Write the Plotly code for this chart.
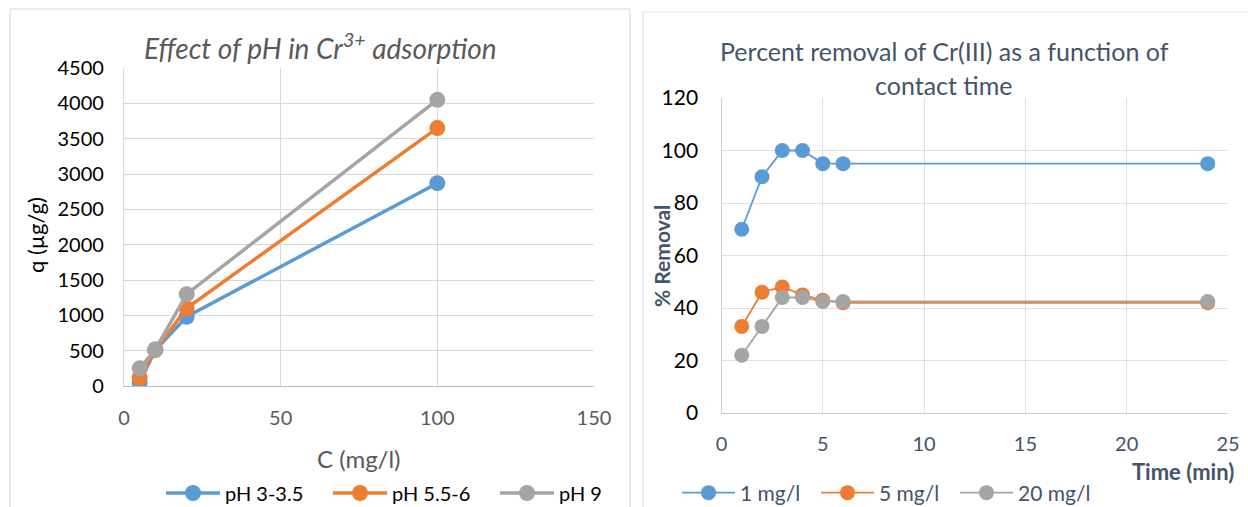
import plotly.graph_objects as go

W, H = 1248, 507

# ---- Left chart data ----
conc = [5, 10, 20, 100]
q_ph3 = [50, 510, 980, 2870]
q_ph55 = [120, 510, 1100, 3650]
q_ph9 = [250, 520, 1300, 4050]
left_names = ["pH 3-3.5", "pH 5.5-6", "pH 9"]

# ---- Right chart data ----
time_min = [1, 2, 3, 4, 5, 6, 24]
rem_1 = [70, 90, 100, 100, 95, 95, 95]
rem_5 = [33, 46, 48, 45, 43, 42, 42]
rem_20 = [22, 33, 44, 44, 42.5, 42.5, 42.5]
right_names = ["1 mg/l", "5 mg/l", "20 mg/l"]

colors = ["#5B9BD5", "#ED7D31", "#A5A5A5"]
FONT = "Lato"

def px_x(p):
    return p / W

def px_y(p):
    return 1 - p / H

fig = go.Figure()

for name, ys, c in zip(left_names, [q_ph3, q_ph55, q_ph9], colors):
    fig.add_trace(go.Scatter(
        x=conc, y=ys, name=name, mode="lines+markers",
        line=dict(color=c, width=3.5),
        marker=dict(color=c, size=16),
        xaxis="x", yaxis="y", legend="legend"))

for name, ys, c in zip(right_names, [rem_1, rem_5, rem_20], colors):
    fig.add_trace(go.Scatter(
        x=time_min, y=ys, name=name, mode="lines+markers",
        line=dict(color=c, width=1.8),
        marker=dict(color=c, size=15),
        xaxis="x2", yaxis="y2", legend="legend2"))

grid_l = "#d9d9d9"
grid_r = "#dde1e8"

fig.update_layout(
    width=W, height=H,
    margin=dict(l=0, r=0, t=0, b=0, autoexpand=False),
    paper_bgcolor="white", plot_bgcolor="white",
    font=dict(family=FONT),
    xaxis=dict(domain=[px_x(124), px_x(594)], range=[0, 150], dtick=50,
               showgrid=True, gridcolor=grid_l, gridwidth=1.3,
               showline=True, linecolor="#bfbfbf", linewidth=1.3,
               zeroline=False, ticks="outside", ticklen=14, tickcolor="rgba(0,0,0,0)",
               tickfont=dict(size=20, color="#595959", family=FONT),
               anchor="y", automargin=False),
    yaxis=dict(domain=[px_y(386), px_y(68)], range=[0, 4500], dtick=500,
               showgrid=True, gridcolor=grid_l, gridwidth=1.3,
               showline=True, linecolor=grid_l, linewidth=1.3,
               zeroline=False, ticks="outside", ticklen=15, tickcolor="rgba(0,0,0,0)",
               tickfont=dict(size=20, color="#000000", family=FONT),
               anchor="x", automargin=False),
    xaxis2=dict(domain=[px_x(721.5), px_x(1228)], range=[0, 25], dtick=5,
                showgrid=True, gridcolor=grid_r, gridwidth=1.3,
                showline=True, linecolor="#c8cdd6", linewidth=1.3,
                zeroline=False, ticks="outside", ticklen=13, tickcolor="rgba(0,0,0,0)",
                tickfont=dict(size=20, color="#44546A", family=FONT),
                anchor="y2", automargin=False),
    yaxis2=dict(domain=[px_y(413), px_y(98)], range=[0, 120], dtick=20,
                showgrid=True, gridcolor=grid_r, gridwidth=1.3,
                showline=True, linecolor="#c8cdd6", linewidth=1.3,
                zeroline=False, ticks="outside", ticklen=18, tickcolor="rgba(0,0,0,0)",
                tickfont=dict(size=21, color="#000000", family=FONT),
                anchor="x2", automargin=False),
    legend=dict(orientation="h", x=px_x(161), xanchor="left",
                y=px_y(493), yanchor="middle",
                itemwidth=54, entrywidth=98, entrywidthmode="pixels",
                font=dict(size=20, color="#000000", family=FONT),
                bgcolor="rgba(0,0,0,0)"),
    legend2=dict(orientation="h", x=px_x(677), xanchor="left",
                 y=px_y(493), yanchor="middle",
                 itemwidth=53, entrywidth=71, entrywidthmode="pixels",
                 font=dict(size=21, color="#44546A", family=FONT),
                 bgcolor="rgba(0,0,0,0)"),
    showlegend=True,
)

# chart borders
fig.add_shape(type="rect", xref="paper", yref="paper",
              x0=px_x(10), x1=px_x(630), y0=px_y(520), y1=px_y(9),
              line=dict(color="#d9d9d9", width=1.2), layer="below")
fig.add_shape(type="rect", xref="paper", yref="paper",
              x0=px_x(643), x1=px_x(1260), y0=px_y(520), y1=px_y(12),
              line=dict(color="#dde1e8", width=1.2), layer="below")

ann = [
    dict(x=px_x(320), y=px_y(46), text="<i>Effect of pH in Cr<sup>3+</sup> adsorption</i>",
         font=dict(size=28, color="#595959", family=FONT)),
    dict(x=px_x(36), y=px_y(235), text="q (µg/g)", textangle=-90,
         font=dict(size=22, color="#000000", family=FONT)),
    dict(x=px_x(359), y=px_y(458), text="C (mg/l)",
         font=dict(size=24, color="#595959", family=FONT)),
    dict(x=px_x(944), y=px_y(51), text="Percent removal of Cr(III) as a function of",
         font=dict(size=25, color="#44546A", family=FONT)),
    dict(x=px_x(944), y=px_y(85), text="contact time",
         font=dict(size=25, color="#44546A", family=FONT)),
    dict(x=px_x(661), y=px_y(256), text="<b>% Removal</b>", textangle=-90,
         font=dict(size=21, color="#44546A", family=FONT)),
    dict(x=px_x(1183), y=px_y(471), text="<b>Time (min)</b>",
         font=dict(size=22, color="#44546A", family=FONT)),
]
for a in ann:
    fig.add_annotation(xref="paper", yref="paper", showarrow=False,
                       xanchor="center", yanchor="middle", **a)

fig.write_html("out.html",
               config={"displayModeBar": False},
               post_script="document.body.style.margin='0';document.body.style.overflow='hidden';")
